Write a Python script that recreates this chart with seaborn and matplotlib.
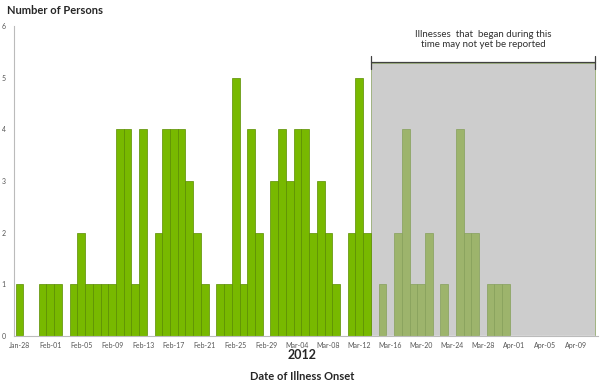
import pandas as pd
import matplotlib
matplotlib.use("Agg")
import matplotlib.pyplot as plt
import seaborn as sns

# Daily onset dates, Jan 28 - Apr 11, 2012
dates = pd.date_range("2012-01-28", "2012-04-11", freq="D")
date_labels = [d.strftime("%b-%d") for d in dates]

# Number of persons per day of illness onset
counts = [
    1, 0, 0, 1,                                              # Jan 28-31
    1, 1, 0, 1, 2, 1, 1, 1, 1, 4, 4, 1, 4, 0, 2, 4, 4, 4,    # Feb 01-18
    3, 2, 1, 0, 1, 1, 5, 1, 4, 2, 0,                         # Feb 19-29
    3, 4, 3, 4, 4, 2, 3, 2, 1, 0, 2, 5, 2,                   # Mar 01-13
    0, 1, 0, 2, 4, 1, 1, 2, 0, 1, 0, 4, 2, 2, 0, 1, 1, 1,    # Mar 14-31
    0, 0, 0, 0, 0, 0, 0, 0, 0, 0, 0,                         # Apr 01-11
]

# first day that may not yet be fully reported
pending_start = "Mar-14"
note = "Illnesses  that  began during this\ntime may not yet be reported"

df = pd.DataFrame({"date": date_labels, "count": counts})
start_idx = date_labels.index(pending_start)
df["period"] = ["reported" if i < start_idx else "pending" for i in range(len(df))]

sns.set_style("white")
plt.rcParams["font.family"] = ["Lato", "DejaVu Sans"]

fig = plt.figure(figsize=(6, 3.92), dpi=100)
ax = fig.add_axes([14 / 600, 1 - 336 / 392, 584 / 600, 310 / 392])

# shaded reporting-delay window
ax.axvspan(start_idx - 0.5, len(df) - 0.5, ymin=0, ymax=5.28 / 6,
           color="#cdcdcd", zorder=0, lw=0)

sns.barplot(data=df, x="date", y="count", hue="period", order=date_labels,
            palette={"reported": "#78b900", "pending": "#9db46c"},
            saturation=1, width=1.0, dodge=False, legend=False, ax=ax,
            zorder=2)

for p in ax.patches:
    fc = p.get_facecolor()
    if p.get_height() > 0:
        if fc[1] > 0.7 and fc[0] < 0.5:
            p.set_edgecolor("#5a8c00")
        else:
            p.set_edgecolor("#86a05a")
        p.set_linewidth(0.5)

# bracket over the shaded window
left, right = start_idx - 0.5, len(df) - 0.5
ax.plot([left, right], [5.3, 5.3], color="#404040", lw=0.9, zorder=3)
ax.plot([left, left], [5.17, 5.42], color="#404040", lw=0.9, zorder=3)
ax.plot([right, right], [5.17, 5.42], color="#404040", lw=0.9, zorder=3)
ax.text((left + right) / 2, 5.73, note, ha="center", va="center",
        fontsize=7, color="#303030", linespacing=1.15)

ax.set_xlim(-0.7, len(df) - 0.1)
ax.set_ylim(0, 6)
ax.set_yticks(range(0, 7))
ax.set_xticks(range(0, len(df), 4))
ax.set_xticklabels(date_labels[::4])
ax.tick_params(axis="both", labelsize=5, colors="#555555", length=2, width=0.5,
               pad=2)
ax.tick_params(axis="y", pad=4)

for s in ["top", "right"]:
    ax.spines[s].set_visible(False)
for s in ["left", "bottom"]:
    ax.spines[s].set_color("#bbbbbb")
    ax.spines[s].set_linewidth(0.8)

ax.set_xlabel("")
ax.set_ylabel("")

fig.text(7 / 600, 1 - 10 / 392, "Number of Persons", fontsize=8,
         fontweight="bold", ha="left", va="center")
fig.text(302 / 600, 1 - 355 / 392, "2012", fontsize=9, fontweight="bold",
         ha="center", va="center")
fig.text(302 / 600, 1 - 377 / 392, "Date of Illness Onset", fontsize=8,
         fontweight="bold", ha="center", va="center")

fig.savefig("out.png", dpi=100)
